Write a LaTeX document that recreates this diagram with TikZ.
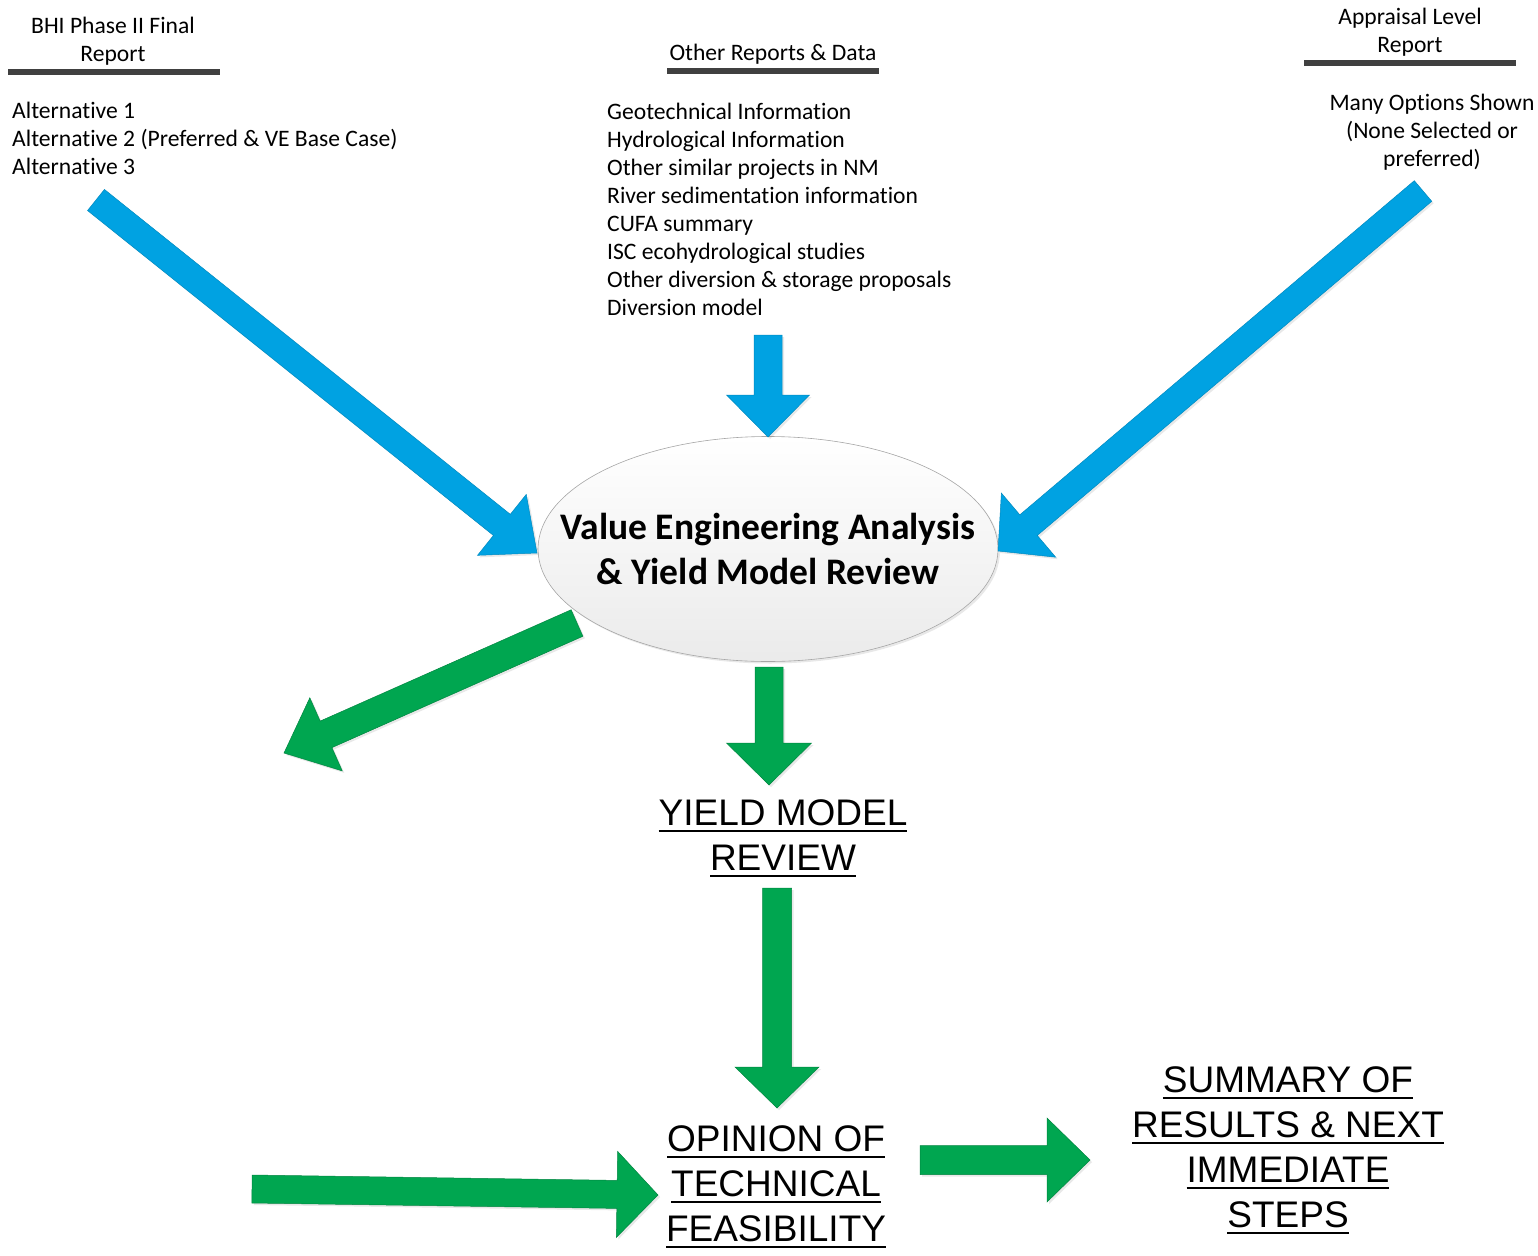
\documentclass[tikz,border=0pt]{standalone}
\usepackage{fontspec}
\setmainfont{Carlito}[Ligatures=CommonOff]
\newfontfamily\arialf{Liberation Sans}
\newsavebox\ulbox
\newcommand\ulx[1]{\sbox\ulbox{#1}\leavevmode\rlap{\rule[-6.8pt]{\wd\ulbox}{2pt}}\usebox\ulbox}
\usetikzlibrary{calc,shapes.geometric,shadows}
\definecolor{vblue}{RGB}{0,162,226}
\definecolor{vgreen}{RGB}{0,166,80}
\definecolor{barc}{RGB}{64,64,64}
\tikzset{
  lbl/.style={font=\fontsize{23.6}{28}\selectfont, inner sep=0pt, align=center},
  lst/.style={font=\fontsize{23.6}{28}\selectfont, inner sep=0pt, align=left},
  big/.style={font=\arialf\fontsize{37}{45}\selectfont, inner sep=0pt, align=center},
  titlebar/.style={draw=barc, line width=6pt},
  bluearrow/.style={fill=vblue, draw=vblue!85!black, line width=0.5pt},
  greenarrow/.style={fill=vgreen, draw=vgreen!80!black, line width=0.5pt},
  fshadow/.style={drop shadow={opacity=0.18, shadow xshift=2pt, shadow yshift=-2pt}},
}
% #1 style, #2 tail coordinate, #3 tip coordinate, #4 half shaft width, #5 half head width, #6 head length
\newcommand\fatarrow[6]{%
  \coordinate (fah) at ($(#3)!#6!(#2)$);
  \filldraw[#1] ($(#2)!#4!90:(#3)$) -- ($(fah)!#4!90:(#3)$) -- ($(fah)!#5!90:(#3)$) -- (#3)
     -- ($(fah)!#5!-90:(#3)$) -- ($(fah)!#4!-90:(#3)$) -- ($(#2)!#4!-90:(#3)$) -- cycle;
}
\begin{document}
\begin{tikzpicture}[x=1pt,y=-1pt]
\useasboundingbox (0,0) rectangle (1538,1255);

% ---- top left source
\node[lbl] (bhi) at (113,41) {BHI Phase II Final\\Report};
\coordinate (bhiL) at (8,72);
\coordinate (bhiR) at (220,72);
\draw[titlebar] (bhiL) -- (bhiR);
\node[lst, anchor=west] (alts) at (12,138) {Alternative 1\\Alternative 2 (Preferred \& VE Base Case)\\Alternative 3};

% ---- top middle source
\node[lbl] (other) at (773,54) {Other Reports \& Data};
\coordinate (othL) at (667,71);
\coordinate (othR) at (879,71);
\draw[titlebar] (othL) -- (othR);
\node[lst, anchor=west] (data) at (607,209) {Geotechnical Information\\Hydrological Information\\Other similar projects in NM\\River sedimentation information\\CUFA summary\\ISC ecohydrological studies\\Other diversion \& storage proposals\\Diversion model};

% ---- top right source
\node[lbl] (appr) at (1410,32) {Appraisal Level\\Report};
\coordinate (apL) at (1304,63);
\coordinate (apR) at (1516,63);
\draw[titlebar] (apL) -- (apR);
\node[lbl] (many) at (1432,132) {Many Options Shown\\(None Selected or\\preferred)};

% ---- central ellipse
\node[ellipse, minimum width=460pt, minimum height=225pt, inner sep=0pt, draw=gray!70, line width=0.6pt,
      top color=white, bottom color=gray!16, fshadow] (veshape) at (768,549) {};
\node[font=\bfseries\fontsize{37.5}{45}\selectfont, align=center, inner sep=0pt]
      (ve) at (veshape.center) {Value Engineering Analysis\\\& Yield Model Review};

% ---- outcome texts
\node[big] (yield) at (783,838) {\ulx{YIELD MODEL}\\\ulx{REVIEW}};
\node[big] (opin) at (776,1187) {\ulx{OPINION OF}\\\ulx{TECHNICAL}\\\ulx{FEASIBILITY}};
\node[big] (summ) at (1288,1150) {\ulx{SUMMARY OF}\\\ulx{RESULTS \& NEXT}\\\ulx{IMMEDIATE}\\\ulx{STEPS}};

% ---- arrow end points
\coordinate (aL1) at (96,200);   \coordinate (aL2) at (537,553);
\coordinate (aM1) at (768,335);  \coordinate (aM2) at (768,437);
\coordinate (aR1) at (1423,191); \coordinate (aR2) at (998,551);
\coordinate (gL1) at (577,623);  \coordinate (gL2) at (284,753);
\coordinate (g11) at (769,667);  \coordinate (g12) at (769,785);
\coordinate (g21) at (777,888);  \coordinate (g22) at (777,1108);
\coordinate (gB1) at (252,1189); \coordinate (gB2) at (658,1195);
\coordinate (gR1) at (920,1160); \coordinate (gR2) at (1090,1160);

% ---- blue input arrows
\fatarrow{bluearrow,fshadow}{aL1}{aL2}{13.5pt}{39pt}{45pt}
\fatarrow{bluearrow,fshadow}{aM1}{aM2}{14pt}{41.5pt}{42pt}
\fatarrow{bluearrow,fshadow}{aR1}{aR2}{13.5pt}{42pt}{40pt}

% ---- green output arrows
\fatarrow{greenarrow,fshadow}{gL1}{gL2}{14.5pt}{40pt}{46pt}
\fatarrow{greenarrow,fshadow}{g11}{g12}{14pt}{42.5pt}{42pt}
\fatarrow{greenarrow,fshadow}{g21}{g22}{14.5pt}{42pt}{41pt}
\fatarrow{greenarrow,fshadow}{gB1}{gB2}{14pt}{43pt}{41pt}
\fatarrow{greenarrow,fshadow}{gR1}{gR2}{14.5pt}{42pt}{43pt}
\end{tikzpicture}
\end{document}
